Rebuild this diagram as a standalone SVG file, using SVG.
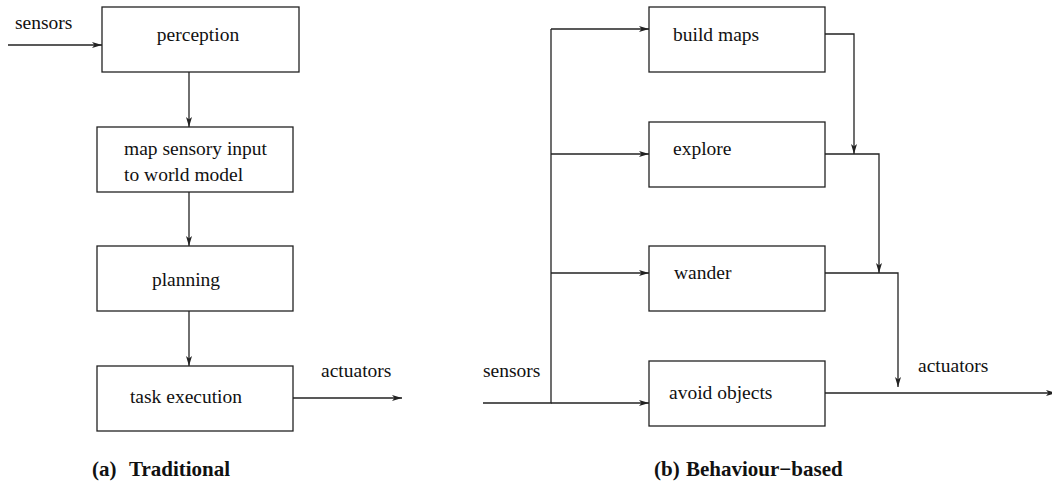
<svg xmlns="http://www.w3.org/2000/svg" width="1052" height="489" viewBox="0 0 1052 489">
  <style>
    .box { fill: #fff; stroke: #222; stroke-width: 1.3; }
    .wire { fill: none; stroke: #222; stroke-width: 1.3; }
    .lbl { font-family: "Liberation Serif", "Times New Roman", serif; font-size: 19.5px; fill: #111; }
    .cap { font-family: "Liberation Serif", "Times New Roman", serif; font-size: 21px; font-weight: bold; fill: #111; }
  </style>
  <defs>
    <marker id="arr" viewBox="0 0 10 6" refX="10" refY="3" markerWidth="10" markerHeight="6" markerUnits="userSpaceOnUse" orient="auto">
      <path d="M0,0 L10,3 L0,6 L2.5,3 z" fill="#222"/>
    </marker>
  </defs>
  <rect width="1052" height="489" fill="#fff"/>

  <!-- (a) Traditional pipeline -->
  <g id="perception">
    <rect class="box" x="102" y="7" width="197" height="65"/>
    <text class="lbl" x="198" y="41" text-anchor="middle">perception</text>
  </g>
  <g id="map-sensory">
    <rect class="box" x="97" y="127" width="196" height="65"/>
    <text class="lbl" x="124" y="155">map sensory input</text>
    <text class="lbl" x="124" y="181">to world model</text>
  </g>
  <g id="planning">
    <rect class="box" x="97" y="246" width="196" height="65"/>
    <text class="lbl" x="186" y="286" text-anchor="middle">planning</text>
  </g>
  <g id="task-execution">
    <rect class="box" x="97" y="366" width="196" height="65"/>
    <text class="lbl" x="186" y="403" text-anchor="middle">task execution</text>
  </g>

  <!-- (b) Behaviour-based layers -->
  <g id="build-maps">
    <rect class="box" x="649" y="7" width="176" height="65"/>
    <text class="lbl" x="673" y="41">build maps</text>
  </g>
  <g id="explore">
    <rect class="box" x="649" y="122" width="176" height="65"/>
    <text class="lbl" x="673" y="155">explore</text>
  </g>
  <g id="wander">
    <rect class="box" x="649" y="246" width="176" height="65"/>
    <text class="lbl" x="674" y="279">wander</text>
  </g>
  <g id="avoid-objects">
    <rect class="box" x="649" y="361" width="176" height="65"/>
    <text class="lbl" x="669" y="399">avoid objects</text>
  </g>

  <g id="connectors">
    <!-- (a) -->
    <line class="wire" x1="8" y1="45" x2="102" y2="45" marker-end="url(#arr)"/>
    <line class="wire" x1="189" y1="72" x2="189" y2="127" marker-end="url(#arr)"/>
    <line class="wire" x1="189" y1="192" x2="189" y2="246" marker-end="url(#arr)"/>
    <line class="wire" x1="189" y1="311" x2="189" y2="366" marker-end="url(#arr)"/>
    <line class="wire" x1="293" y1="398" x2="402" y2="398" marker-end="url(#arr)"/>
    <!-- (b) sensor bus -->
    <polyline class="wire" points="483,403 551,403 551,29"/>
    <line class="wire" x1="551" y1="29" x2="649" y2="29" marker-end="url(#arr)"/>
    <line class="wire" x1="551" y1="154" x2="649" y2="154" marker-end="url(#arr)"/>
    <line class="wire" x1="551" y1="273" x2="649" y2="273" marker-end="url(#arr)"/>
    <line class="wire" x1="551" y1="403" x2="649" y2="403" marker-end="url(#arr)"/>
    <!-- (b) suppression paths -->
    <polyline class="wire" points="825,34 854,34 854,154" marker-end="url(#arr)"/>
    <polyline class="wire" points="825,154 879,154 879,273" marker-end="url(#arr)"/>
    <polyline class="wire" points="825,273 898,273 898,387" marker-end="url(#arr)"/>
    <line class="wire" x1="825" y1="393" x2="1056" y2="393" marker-end="url(#arr)"/>
  </g>

  <g id="labels">
    <text class="lbl" x="15" y="29">sensors</text>
    <text class="lbl" x="321" y="377">actuators</text>
    <text class="lbl" x="483" y="377">sensors</text>
    <text class="lbl" x="918" y="372">actuators</text>
    <text class="cap" x="92" y="476">(a)</text>
    <text class="cap" x="129" y="476">Traditional</text>
    <text class="cap" x="654" y="476">(b)</text>
    <text class="cap" x="686" y="476">Behaviour−based</text>
  </g>
</svg>
